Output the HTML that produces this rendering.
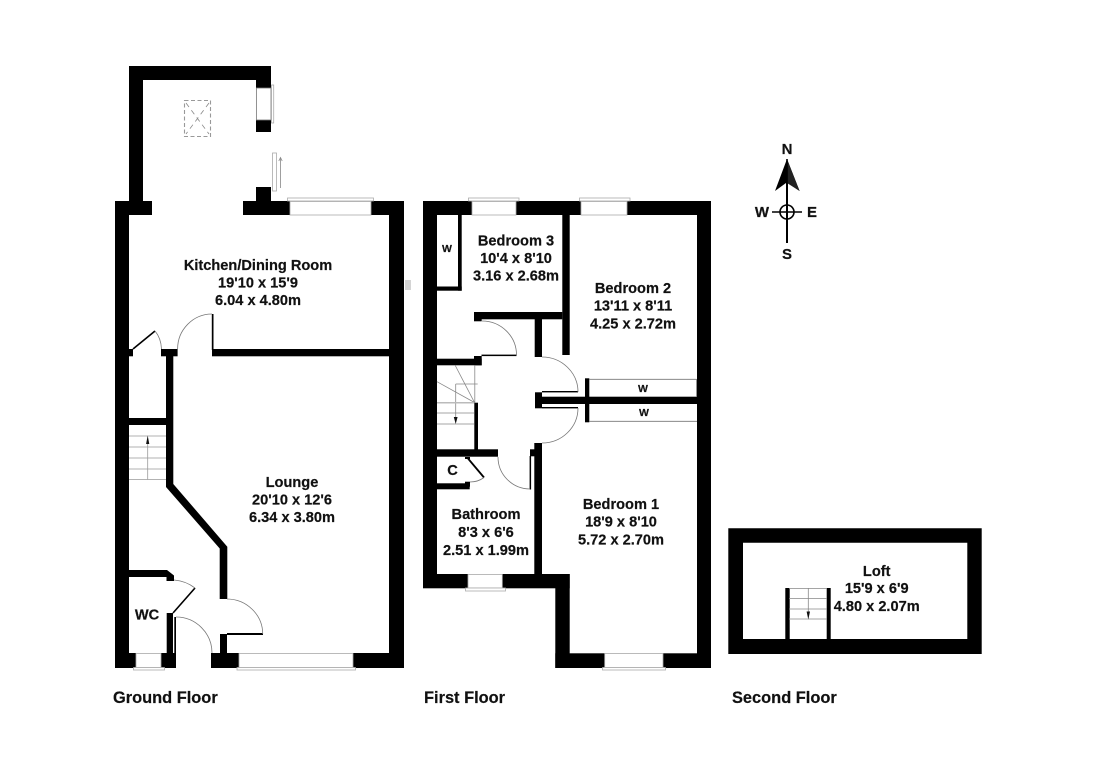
<!DOCTYPE html>
<html><head><meta charset="utf-8"><style>
html,body{margin:0;padding:0;background:#fff}
svg{display:block}
text{font-family:"Liberation Sans",Arial,sans-serif;font-weight:bold;fill:#111;stroke:#111;stroke-width:.2px;font-size:14.6px;text-anchor:middle}
text.l{text-anchor:start;font-size:16.4px}
</style></head><body>
<svg width="1095" height="774" viewBox="0 0 1095 774" xmlns="http://www.w3.org/2000/svg">
<rect width="1095" height="774" fill="#fff"/>
<rect x="405" y="280" width="6" height="10" fill="#d4d4d4"/>

<!-- GROUND FLOOR walls -->
<g fill="#000">
<rect x="129" y="66" width="142" height="14"/>
<rect x="129" y="66" width="14" height="136"/>
<rect x="256" y="80" width="15" height="8"/>
<rect x="256" y="120" width="15" height="12"/>
<rect x="115" y="201" width="37" height="14"/>
<rect x="243" y="201" width="47" height="14"/>
<rect x="256" y="187" width="15" height="14"/>
<rect x="371" y="201" width="33" height="14"/>
<rect x="115" y="201" width="14" height="467"/>
<rect x="389" y="201" width="15" height="467"/>
<rect x="212" y="349" width="177" height="7.3"/>
<rect x="211.8" y="314" width="1.7" height="36"/>
<rect x="161" y="349" width="16.6" height="7.3"/>
<rect x="115" y="349" width="18" height="7.3"/>
<rect x="115" y="418" width="58" height="7"/>
<path d="M166 356H173.3V484L227.3 546.7V599H219.7V548.5L166 487Z"/>
<path d="M220 634H227V653H220Z"/>
<rect x="227" y="633" width="36" height="2"/>
<path d="M129 570H167L174 575.5V581H166.5V577H129Z"/>
<rect x="166.7" y="613" width="6.3" height="41"/>
<rect x="174.3" y="617" width="1.7" height="37"/>
<rect x="115" y="653" width="21" height="15"/>
<rect x="161" y="653" width="15" height="15"/>
<rect x="211" y="653" width="28" height="15"/>
<rect x="353" y="653" width="51" height="15"/>
</g>
<g fill="none" stroke="#000" stroke-width="1.6">
<path d="M133 349L155 331"/>
<path d="M173 613L195 588"/>
</g>
<g fill="none" stroke="#777" stroke-width="0.8">
<path d="M212 314A34.5 35 0 0 0 177.6 349"/>
<path d="M155 331Q161 338 161.5 349"/>
<path d="M174 580Q186 581 195 588"/>
<path d="M176 617A36 36 0 0 1 212 653"/>
<path d="M227 599A36 35 0 0 1 262.7 634"/>
</g>
<!-- ground windows -->
<g fill="#fff" stroke="#aaa" stroke-width="0.8">
<rect x="256.4" y="88" width="14.6" height="32" stroke="#777"/>
<rect x="271.5" y="85" width="2.2" height="38"/>
<rect x="290" y="201.5" width="81" height="13.5"/>
<rect x="287.5" y="198" width="86" height="3"/>
<rect x="136" y="653.5" width="25" height="14"/>
<rect x="133.5" y="667.5" width="31" height="2.5"/>
<rect x="239" y="653.5" width="114" height="14"/>
<rect x="237" y="667.5" width="118.5" height="2.5"/>
<rect x="272.5" y="153" width="4" height="38"/>
</g>
<path d="M280.5 188V158M278.8 161L280.5 157.5L282.2 161" fill="none" stroke="#888" stroke-width="0.8"/>
<!-- skylight -->
<g fill="none" stroke="#999" stroke-width="1.1">
<rect x="184.5" y="100.5" width="26" height="36" stroke-dasharray="4 2.5"/>
<path d="M186 103L209 134M209 103L186 134" stroke-dasharray="5 4" stroke-width="0.8" stroke="#888"/>
</g>
<!-- ground stairs -->
<g stroke="#999" stroke-width="0.8" fill="none">
<path d="M129 436H166M129 447H166M129 458H166M129 469H166M129 479.5H166M147.7 479.5V440"/>
</g>
<path d="M147.7 435.5L149.3 444H146.1Z" fill="#111"/>

<!-- FIRST FLOOR walls -->
<g fill="#000">
<rect x="423" y="201" width="14" height="387"/>
<rect x="423" y="201" width="49" height="14"/>
<rect x="516" y="201" width="65" height="14"/>
<rect x="627" y="201" width="84" height="14"/>
<rect x="697" y="201" width="14" height="467"/>
<rect x="458" y="215" width="3.7" height="75.7"/>
<rect x="437" y="286.5" width="24.7" height="4.2"/>
<rect x="562.3" y="215" width="7.4" height="140"/>
<rect x="474" y="312" width="88.3" height="7.3"/>
<rect x="474" y="312" width="7.7" height="9.3"/>
<rect x="534.7" y="319" width="7.3" height="38"/>
<rect x="481.5" y="354.6" width="35" height="1.5"/>
<rect x="423" y="358.7" width="58.7" height="6.6"/>
<rect x="474" y="356" width="7.7" height="9.3"/>
<rect x="474.3" y="402.7" width="3.7" height="47"/>
<rect x="423" y="449.3" width="75" height="7.4"/>
<rect x="534.3" y="443" width="7.7" height="131"/>
<rect x="530" y="449.3" width="12" height="7"/>
<rect x="529.6" y="456" width="1.5" height="33.5"/>
<rect x="423" y="483.3" width="46.7" height="6"/>
<rect x="465" y="481.7" width="5" height="5"/>
<rect x="465" y="457" width="5" height="2"/>
<rect x="423" y="574" width="45" height="14.3"/>
<rect x="502.3" y="574" width="67.4" height="14.3"/>
<rect x="555.3" y="574" width="14.4" height="94"/>
<rect x="555.3" y="653.3" width="49.4" height="14.7"/>
<rect x="663" y="653.3" width="48" height="14.7"/>
<rect x="542" y="396.7" width="169" height="7.3"/>
<rect x="535" y="392.3" width="7" height="16"/>
<rect x="542" y="391" width="36" height="1.4"/>
<rect x="542" y="407" width="36" height="1.4"/>
<rect x="585" y="378.3" width="4.3" height="44"/>
</g>
<path d="M468 458.5L484 477.5" stroke="#000" stroke-width="1.8" fill="none"/>
<g fill="none" stroke="#777" stroke-width="0.8">
<path d="M482 321A34.5 34 0 0 1 516.5 355"/>
<path d="M542 357A36 35 0 0 1 578 392"/>
<path d="M578 408A36 35 0 0 1 542 443"/>
<path d="M498 457A32 32 0 0 0 530 489"/>
<path d="M470 482Q478 482 484 477.5"/>
<path d="M589 379.3H696.5M696.5 379V396.7M589 421.3H697"/>
</g>
<g fill="#fff" stroke="#aaa" stroke-width="0.8">
<rect x="472" y="201.5" width="44" height="13.5"/>
<rect x="468.5" y="198" width="50.5" height="3"/>
<rect x="581" y="201.5" width="46" height="13.5"/>
<rect x="579.5" y="198" width="50.5" height="3"/>
<rect x="468" y="574.5" width="34.3" height="13.5"/>
<rect x="465.5" y="588" width="40" height="3"/>
<rect x="604.7" y="653.5" width="58.3" height="14"/>
<rect x="602.5" y="667.5" width="63" height="2.5"/>
</g>
<!-- first stairs -->
<g stroke="#888" stroke-width="0.8" fill="none">
<path d="M455 365L474.5 402.5M437 381.7L474.5 402.5M474.8 365V402.5M455.7 384H477.7M455.7 384V420M437 413H474M437 424H474"/>
</g>
<path d="M437 402.7H474" stroke="#bbb" stroke-width="1.5"/>
<path d="M455.7 424L453.8 417H457.6Z" fill="#111"/>

<!-- LOFT -->
<path fill="#000" fill-rule="evenodd" d="M728.3 528.3H981.7V654H728.3ZM743 542.7V639H967.3V542.7Z"/>
<g fill="#000">
<rect x="785.3" y="588" width="4.4" height="51"/>
<rect x="826.7" y="588" width="4" height="51"/>
</g>
<g stroke="#888" stroke-width="0.8" fill="none">
<path d="M789 588.5H827M789 598.5H827M789 609H827M789 619H827M808.3 588V613"/>
</g>
<path d="M808.3 619.5L806.6 611.5H810Z" fill="#111"/>

<!-- COMPASS -->
<path d="M787 159L799.6 191L788 183V243H786V183L775 191Z" fill="#000"/>
<path d="M787 159L799.6 191L787 183Z" fill="#222"/>
<g fill="none" stroke="#000" stroke-width="1.6">
<circle cx="787" cy="212" r="7"/>
<path d="M772 212H802M787 159V243"/>
</g>
<text x="787" y="154" style="font-size:15px">N</text>
<text x="762" y="217" style="font-size:15px">W</text>
<text x="812" y="217" style="font-size:15px">E</text>
<text x="787" y="259" style="font-size:15px">S</text>

<!-- LABELS -->
<text x="258" y="270">Kitchen/Dining Room</text>
<text x="258" y="287.5">19'10 x 15'9</text>
<text x="258" y="305">6.04 x 4.80m</text>
<text x="292" y="487">Lounge</text>
<text x="292" y="504.5">20'10 x 12'6</text>
<text x="292" y="522">6.34 x 3.80m</text>
<text x="147" y="619.5">WC</text>
<text x="516" y="245.5">Bedroom 3</text>
<text x="516" y="263">10'4  x 8'10</text>
<text x="516" y="280.7">3.16 x 2.68m</text>
<text x="633" y="293">Bedroom 2</text>
<text x="633" y="310.7">13'11 x 8'11</text>
<text x="633" y="328.5">4.25 x 2.72m</text>
<text x="621" y="509">Bedroom 1</text>
<text x="621" y="526.5">18'9 x 8'10</text>
<text x="621" y="544.5">5.72 x 2.70m</text>
<text x="486" y="519">Bathroom</text>
<text x="486" y="537">8'3 x 6'6</text>
<text x="486" y="555">2.51 x 1.99m</text>
<text x="452.5" y="475">C</text>
<text x="876.7" y="576">Loft</text>
<text x="876.7" y="593">15'9 x 6'9</text>
<text x="876.7" y="611">4.80 x 2.07m</text>
<text x="447" y="252" style="font-size:10.5px">W</text>
<text x="643" y="392" style="font-size:10.5px">W</text>
<text x="644" y="416" style="font-size:10.5px">W</text>
<text class="l" x="113" y="703">Ground Floor</text>
<text class="l" x="424" y="703">First Floor</text>
<text class="l" x="732" y="703">Second Floor</text>
</svg>
</body></html>
